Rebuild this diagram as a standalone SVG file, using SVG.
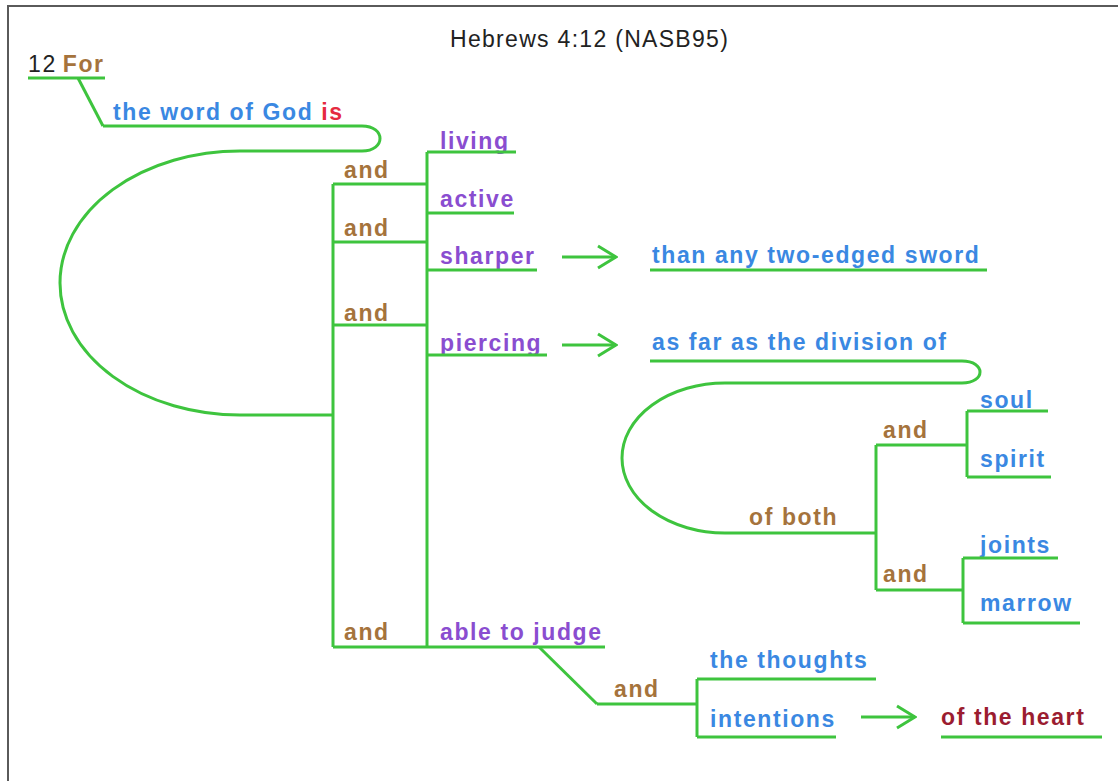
<svg xmlns="http://www.w3.org/2000/svg" width="1118" height="781" viewBox="0 0 1118 781">
<style>
.t{font-family:"Liberation Sans",Arial,sans-serif;font-weight:bold;font-size:23px;letter-spacing:1.6px}
.blue{fill:#3a88e2}.brown{fill:#a5733c}.purple{fill:#8a4dd0}.red{fill:#e52a40}.dred{fill:#9b1c30}
.ln{stroke:#3ec43e;stroke-width:3;fill:none}
.title{font-family:"Liberation Sans",Arial,sans-serif;font-size:23px;letter-spacing:1.3px;fill:#222}
</style>
<defs>
<marker id="arr" viewBox="0 0 22 26" refX="20" refY="13" markerWidth="22" markerHeight="26" markerUnits="userSpaceOnUse" orient="auto">
<path d="M2,2 L20,13 L2,24" fill="none" stroke="#3ec43e" stroke-width="3"/>
</marker>
</defs>
<rect x="0" y="0" width="1118" height="781" fill="#fff"/>
<rect x="8" y="6" width="1130" height="800" fill="none" stroke="#5a5a5a" stroke-width="2"/>
<text class="title" x="450" y="47">Hebrews 4:12 (NASB95)</text>

<g id="connectors" class="ln">
<path d="M78 78 L103 126"/>
<path d="M362 126 C386 126 386 151 362 151 L240 151 A180 132 0 0 0 240 415 L333 415"/>
<path d="M333 184 V647"/>
<path d="M333 184 H427 M333 242 H427 M333 325 H427"/>
<path d="M427 152 V647"/>
<path d="M333 647 H427"/>
<path d="M562 257 H616" marker-end="url(#arr)"/>
<path d="M562 345 H616" marker-end="url(#arr)"/>
<path d="M962 361 C986 361 986 383 962 383 L725 383 A103 75 0 0 0 725 533 L749 533"/>
<path d="M876 445 V590"/>
<path d="M967 411 V477"/>
<path d="M963 558 V623"/>
<path d="M539 647 L597 704"/>
<path d="M697 679 V737"/>
<path d="M861 717 H915" marker-end="url(#arr)"/>
</g>

<g id="n-for"><text class="t" x="28" y="72"><tspan fill="#222" font-weight="normal">12</tspan><tspan class="brown" dx="6">For</tspan></text><path class="ln" d="M28 78 H105"/></g>
<g id="n-word"><text class="t" x="113" y="120"><tspan class="blue">the word of God </tspan><tspan class="red">is</tspan></text><path class="ln" d="M103 126 H362"/></g>
<g id="n-and1"><text class="t brown" x="344" y="178">and</text></g>
<g id="n-and2"><text class="t brown" x="344" y="236">and</text></g>
<g id="n-and3"><text class="t brown" x="344" y="321">and</text></g>
<g id="n-and4"><text class="t brown" x="344" y="640">and</text></g>
<g id="n-living"><text class="t purple" x="440" y="149">living</text><path class="ln" d="M427 152 H516"/></g>
<g id="n-active"><text class="t purple" x="440" y="207">active</text><path class="ln" d="M427 213 H514"/></g>
<g id="n-sharper"><text class="t purple" x="440" y="264">sharper</text><path class="ln" d="M427 270 H537"/></g>
<g id="n-piercing"><text class="t purple" x="440" y="351">piercing</text><path class="ln" d="M427 355 H547"/></g>
<g id="n-judge"><text class="t purple" x="440" y="640">able to judge</text><path class="ln" d="M427 647 H605"/></g>
<g id="n-sword"><text class="t blue" x="652" y="263">than any two-edged sword</text><path class="ln" d="M650 270 H987"/></g>
<g id="n-division"><text class="t blue" x="652" y="350">as far as the division of</text><path class="ln" d="M650 361 H962"/></g>
<g id="n-ofboth"><text class="t brown" x="749" y="525">of both</text><path class="ln" d="M749 533 H876"/></g>
<g id="n-and5"><text class="t brown" x="883" y="438">and</text><path class="ln" d="M876 445 H967"/></g>
<g id="n-and6"><text class="t brown" x="883" y="582">and</text><path class="ln" d="M876 590 H963"/></g>
<g id="n-soul"><text class="t blue" x="980" y="408">soul</text><path class="ln" d="M967 411 H1048"/></g>
<g id="n-spirit"><text class="t blue" x="980" y="467">spirit</text><path class="ln" d="M967 477 H1051"/></g>
<g id="n-joints"><text class="t blue" x="980" y="553">joints</text><path class="ln" d="M963 558 H1058"/></g>
<g id="n-marrow"><text class="t blue" x="980" y="611">marrow</text><path class="ln" d="M963 623 H1080"/></g>
<g id="n-and7"><text class="t brown" x="614" y="697">and</text><path class="ln" d="M597 704 H697"/></g>
<g id="n-thoughts"><text class="t blue" x="710" y="668">the thoughts</text><path class="ln" d="M697 679 H876"/></g>
<g id="n-intentions"><text class="t blue" x="710" y="727">intentions</text><path class="ln" d="M697 737 H836"/></g>
<g id="n-heart"><text class="t dred" x="941" y="725">of the heart</text><path class="ln" d="M941 737 H1102"/></g>
</svg>
